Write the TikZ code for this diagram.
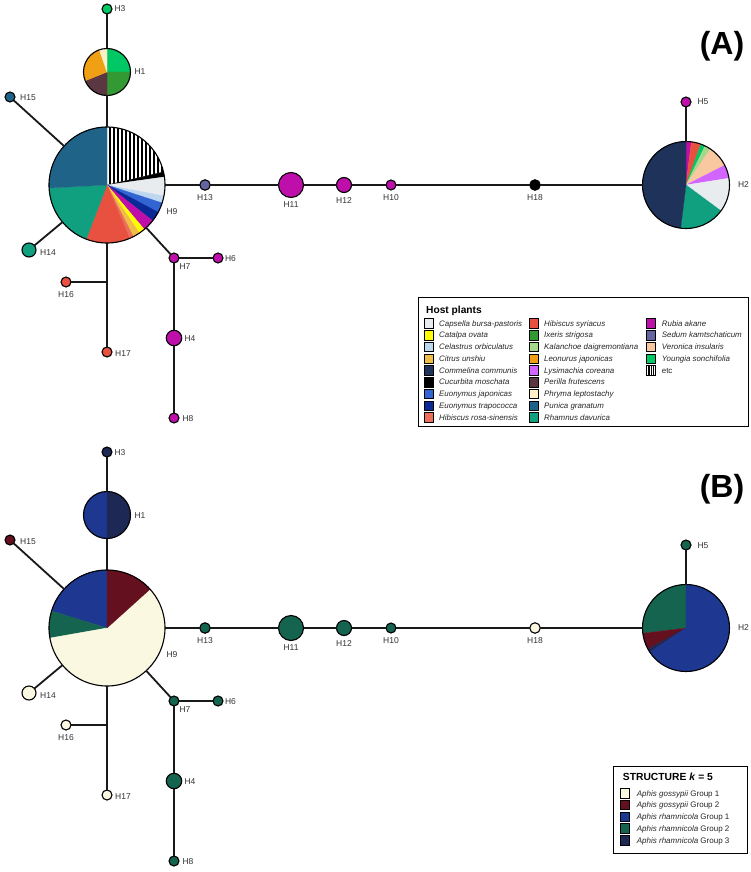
\documentclass[tikz,border=0pt]{standalone}
\usepackage{fontspec}
\setmainfont{Liberation Sans}
% host plant colours
\definecolor{capsella}{HTML}{E8ECEE}
\definecolor{catalpa}{HTML}{FFFF00}
\definecolor{celastrus}{HTML}{BED7F0}
\definecolor{citrus}{HTML}{F0BE46}
\definecolor{commelina}{HTML}{1E325A}
\definecolor{cucurbita}{HTML}{000000}
\definecolor{eujap}{HTML}{3264D2}
\definecolor{eutrap}{HTML}{0A2896}
\definecolor{rosasin}{HTML}{EB6E5A}
\definecolor{syriacus}{HTML}{E8513F}
\definecolor{ixeris}{HTML}{339933}
\definecolor{kalanchoe}{HTML}{A5D78C}
\definecolor{leonurus}{HTML}{F0A014}
\definecolor{lysimachia}{HTML}{D264FF}
\definecolor{perilla}{HTML}{5A3741}
\definecolor{phryma}{HTML}{FFF0C8}
\definecolor{punica}{HTML}{1F6488}
\definecolor{rhamnus}{HTML}{10A080}
\definecolor{rubia}{HTML}{BE0FAA}
\definecolor{sedum}{HTML}{6464A0}
\definecolor{veronica}{HTML}{FAC8A0}
\definecolor{youngia}{HTML}{00C864}
% structure colours
\definecolor{gga}{HTML}{FAF8E1}
\definecolor{ggb}{HTML}{64101E}
\definecolor{rha}{HTML}{1E3791}
\definecolor{rhb}{HTML}{146450}
\definecolor{rhc}{HTML}{1E2855}
\newcommand\slc[5]{\filldraw[fill=#5,draw=#5,line width=0.3pt] (#1) -- ++(#2:#4) arc[start angle=#2,end angle=#3,radius=#4] -- cycle;}
\tikzset{
 hap/.style={circle,draw=black,line width=1.1pt,inner sep=0pt,outer sep=0pt},
 conn/.style={line width=1.8pt,draw=black!90},
 lab/.style={font=\fontsize{8.5}{10}\selectfont,text=black!80,inner sep=0pt,anchor=base},
 swatch/.style={draw=black,line width=0.6pt,minimum width=9pt,minimum height=9.5pt,inner sep=0pt},
 legtxt/.style={font=\fontsize{7.9}{9}\selectfont\itshape,text=black!85,anchor=base west,inner sep=0pt},
 s1/.style={},s2/.style={},s3/.style={},s4/.style={},s5/.style={},s6/.style={},
 s7/.style={},s8/.style={},s9/.style={},s10/.style={},s11/.style={},s12/.style={},
 s13/.style={},s14/.style={},s15/.style={},s16/.style={},s17/.style={},s18/.style={},
}
\newcommand\hapnet[1]{%
 \node[hap,minimum size=10pt,s3] (H3#1) at (107,-9) {};
 \node[hap,minimum size=47pt,s1] (H1#1) at (107,-72) {};
 \node[hap,minimum size=116pt,s9] (H9#1) at (107,-185) {};
 \node[hap,minimum size=10pt,s15] (H15#1) at (10,-97) {};
 \node[hap,minimum size=14pt,s14] (H14#1) at (29,-250) {};
 \node[hap,minimum size=10pt,s16] (H16#1) at (66,-282) {};
 \coordinate (J#1) at (107,-282);
 \node[hap,minimum size=10pt,s17] (H17#1) at (107,-352) {};
 \node[hap,minimum size=10pt,s7] (H7#1) at (174,-258) {};
 \node[hap,minimum size=10pt,s6] (H6#1) at (218,-258) {};
 \node[hap,minimum size=15.5pt,s4] (H4#1) at (174,-338) {};
 \node[hap,minimum size=10pt,s8] (H8#1) at (174,-418) {};
 \node[hap,minimum size=10.5pt,s13] (H13#1) at (205,-185) {};
 \node[hap,minimum size=25pt,s11] (H11#1) at (291,-185) {};
 \node[hap,minimum size=15pt,s12] (H12#1) at (344,-185) {};
 \node[hap,minimum size=10pt,s10] (H10#1) at (391,-185) {};
 \node[hap,minimum size=10.5pt,s18] (H18#1) at (535,-185) {};
 \node[hap,minimum size=87pt,s2] (H2#1) at (686,-185) {};
 \node[hap,minimum size=10pt,s5] (H5#1) at (686,-102) {};
 \draw[conn] (H3#1) -- (H1#1);
 \draw[conn] (H1#1) -- (H9#1);
 \draw[conn] (H15#1) -- (H9#1);
 \draw[conn] (H14#1) -- (H9#1);
 \draw[conn] (H9#1) -- (H7#1);
 \draw[conn] (H7#1) -- (H6#1);
 \draw[conn] (H7#1) -- (H4#1);
 \draw[conn] (H4#1) -- (H8#1);
 \draw[conn] (H9#1) -- (J#1) -- (H17#1);
 \draw[conn] (J#1) -- (H16#1);
 \draw[conn] (H9#1) -- (H13#1) -- (H11#1) -- (H12#1) -- (H10#1) -- (H18#1) -- (H2#1);
 \draw[conn] (H2#1) -- (H5#1);
 \node[lab] (L3#1) at (120,-12) {H3};
 \node[lab] (L1#1) at (140,-75) {H1};
 \node[lab] (L9#1) at (172,-214) {H9};
 \node[lab] (L15#1) at (28,-101) {H15};
 \node[lab] (L14#1) at (48,-255) {H14};
 \node[lab] (L16#1) at (66,-297) {H16};
 \node[lab] (L17#1) at (123,-356) {H17};
 \node[lab] (L7#1) at (185,-269) {H7};
 \node[lab] (L6#1) at (230.5,-261) {H6};
 \node[lab] (L4#1) at (190,-341) {H4};
 \node[lab] (L8#1) at (188,-421) {H8};
 \node[lab] (L13#1) at (205,-200) {H13};
 \node[lab] (L11#1) at (291,-207) {H11};
 \node[lab] (L12#1) at (344,-203) {H12};
 \node[lab] (L10#1) at (391,-200.5) {H10};
 \node[lab] (L18#1) at (535,-200.5) {H18};
 \node[lab] (L2#1) at (743.5,-187.5) {H2};
 \node[lab] (L5#1) at (703,-105) {H5};
}
\begin{document}
\begin{tikzpicture}[x=1pt,y=1pt]
\fill[white] (0,0) rectangle (751,-872);
\useasboundingbox (0,0) rectangle (751,-872);
% ================= Panel A =================
\begin{scope}[s3/.style={fill=youngia},s15/.style={fill=punica},s14/.style={fill=rhamnus},
 s16/.style={fill=syriacus},s17/.style={fill=syriacus},s7/.style={fill=rubia},s6/.style={fill=rubia},
 s4/.style={fill=rubia},s8/.style={fill=rubia},s13/.style={fill=sedum},s11/.style={fill=rubia},
 s12/.style={fill=rubia},s10/.style={fill=rubia},s18/.style={fill=black},s5/.style={fill=rubia}]
 % H1 pie
 \slc{107,-72}{0}{90}{23.5}{youngia}
 \slc{107,-72}{-90}{0}{23.5}{ixeris}
 \slc{107,-72}{202}{270}{23.5}{perilla}
 \slc{107,-72}{109}{202}{23.5}{leonurus}
 \slc{107,-72}{90}{109}{23.5}{phryma}
 % H9 pie : striped "etc" slice
 \begin{scope}
  \clip (107,-185) -- ++(13:58) arc[start angle=13,end angle=90,radius=58] -- cycle;
  \fill[white] (105,-187) rectangle (168,-125);
  \foreach \x in {110,114,...,166} \fill[black] (\x-0.75,-187) rectangle (\x+0.75,-125);
 \end{scope}
 \slc{107,-185}{8}{13}{58}{cucurbita}
 \slc{107,-185}{-11}{8}{58}{capsella}
 \slc{107,-185}{-18}{-11}{58}{celastrus}
 \slc{107,-185}{-28}{-18}{58}{eujap}
 \slc{107,-185}{-38}{-28}{58}{eutrap}
 \slc{107,-185}{-50}{-38}{58}{rubia}
 \slc{107,-185}{-56}{-50}{58}{catalpa}
 \slc{107,-185}{-63}{-56}{58}{citrus}
 \slc{107,-185}{-67}{-63}{58}{rosasin}
 \slc{107,-185}{-111}{-67}{58}{syriacus}
 \slc{107,-185}{-177}{-111}{58}{rhamnus}
 \slc{107,-185}{90}{183}{58}{punica}
 % H2 pie
 \slc{686,-185}{83}{90}{43.5}{rubia}
 \slc{686,-185}{70}{83}{43.5}{syriacus}
 \slc{686,-185}{64}{70}{43.5}{youngia}
 \slc{686,-185}{56}{64}{43.5}{kalanchoe}
 \slc{686,-185}{27}{56}{43.5}{veronica}
 \slc{686,-185}{9}{27}{43.5}{lysimachia}
 \slc{686,-185}{-36.5}{9}{43.5}{capsella}
 \slc{686,-185}{-97}{-36.5}{43.5}{rhamnus}
 \slc{686,-185}{90}{263}{43.5}{commelina}
 \hapnet{a}
\end{scope}
\node[font=\fontsize{32}{36}\selectfont\bfseries,anchor=base,inner sep=0pt] (tagA) at (722,-54.5) {(A)};
% legend A
\node[draw=black,line width=1pt,minimum width=330.6pt,minimum height=129.3pt,anchor=north west,inner sep=0pt] (legA) at (417.7,-296.7) {};
\node[font=\fontsize{10.2}{12}\selectfont\bfseries,anchor=base west,inner sep=0pt] (hdrA) at (426,-313) {Host plants};
\foreach \c/\t [count=\i] in {capsella/Capsella bursa-pastoris, catalpa/Catalpa ovata, celastrus/Celastrus orbiculatus, citrus/Citrus unshiu, commelina/Commelina communis, cucurbita/Cucurbita moschata, eujap/Euonymus japonicas, eutrap/Euonymus trapococca, rosasin/Hibiscus rosa-sinensis}{
 \node[swatch,fill=\c] (sa\i) at (428.8,{-323.3-11.75*(\i-1)}) {};
 \node[legtxt] (ta\i) at (439,{-326.1-11.75*(\i-1)}) {\t};
}
\foreach \c/\t [count=\i] in {syriacus/Hibiscus syriacus, ixeris/Ixeris strigosa, kalanchoe/Kalanchoe daigremontiana, leonurus/Leonurus japonicas, lysimachia/Lysimachia coreana, perilla/Perilla frutescens, phryma/Phryma leptostachy, punica/Punica granatum, rhamnus/Rhamnus davurica}{
 \node[swatch,fill=\c] (sb\i) at (533.5,{-323.3-11.75*(\i-1)}) {};
 \node[legtxt] (tb\i) at (544,{-326.1-11.75*(\i-1)}) {\t};
}
\foreach \c/\t [count=\i] in {rubia/Rubia akane, sedum/Sedum kamtschaticum, veronica/Veronica insularis, youngia/Youngia sonchifolia}{
 \node[swatch,fill=\c] (sc\i) at (651.2,{-323.3-11.75*(\i-1)}) {};
 \node[legtxt] (tc\i) at (661.7,{-326.1-11.75*(\i-1)}) {\t};
}
\node[swatch,fill=white] (sc5) at (651.2,-370.3) {};
\foreach \dx in {-2.2,0,2.2} \draw[line width=1.1pt] ([xshift=\dx pt]sc5.north) -- ([xshift=\dx pt]sc5.south);
\node[legtxt,font=\fontsize{7.9}{9}\selectfont\upshape] (tc5) at (661.7,-373.1) {etc};
% ================= Panel B =================
\begin{scope}[yshift=-443pt,s3/.style={fill=rhc},s15/.style={fill=ggb},s14/.style={fill=gga},
 s16/.style={fill=gga},s17/.style={fill=gga},s7/.style={fill=rhb},s6/.style={fill=rhb},
 s4/.style={fill=rhb},s8/.style={fill=rhb},s13/.style={fill=rhb},s11/.style={fill=rhb},
 s12/.style={fill=rhb},s10/.style={fill=rhb},s18/.style={fill=gga},s5/.style={fill=rhb}]
 % H1 pie
 \slc{107,-72}{90}{270}{23.5}{rha}
 \slc{107,-72}{-90}{90}{23.5}{rhc}
 % H9 pie
 \slc{107,-185}{90}{163}{58}{rha}
 \slc{107,-185}{163}{190}{58}{rhb}
 \slc{107,-185}{190}{402}{58}{gga}
 \slc{107,-185}{42}{90}{58}{ggb}
 % H2 pie
 \slc{686,-185}{90}{187}{43.5}{rhb}
 \slc{686,-185}{187}{209}{43.5}{ggb}
 \slc{686,-185}{209}{214}{43.5}{rhc}
 \slc{686,-185}{214}{450}{43.5}{rha}
 \hapnet{b}
\end{scope}
\node[font=\fontsize{32}{36}\selectfont\bfseries,anchor=base,inner sep=0pt] (tagB) at (722,-497.5) {(B)};
% legend B
\node[draw=black,line width=1pt,minimum width=134.6pt,minimum height=87pt,anchor=north west,inner sep=0pt] (legB) at (612.7,-765.7) {};
\node[font=\fontsize{10.3}{12}\selectfont\bfseries,anchor=base west,inner sep=0pt] (hdrB) at (622.7,-780.7) {STRUCTURE \textit{k} = 5};
\foreach \c/\t [count=\i] in {gga/{\textit{Aphis gossypii} Group 1}, ggb/{\textit{Aphis gossypii} Group 2}, rha/{\textit{Aphis rhamnicola} Group 1}, rhb/{\textit{Aphis rhamnicola} Group 2}, rhc/{\textit{Aphis rhamnicola} Group 3}}{
 \node[swatch,fill=\c] (sd\i) at (625,{-793.3-11.7*(\i-1)}) {};
 \node[legtxt,font=\fontsize{8}{9}\selectfont] (td\i) at (636.7,{-796.2-11.7*(\i-1)}) {\t};
}
\end{tikzpicture}
\end{document}
